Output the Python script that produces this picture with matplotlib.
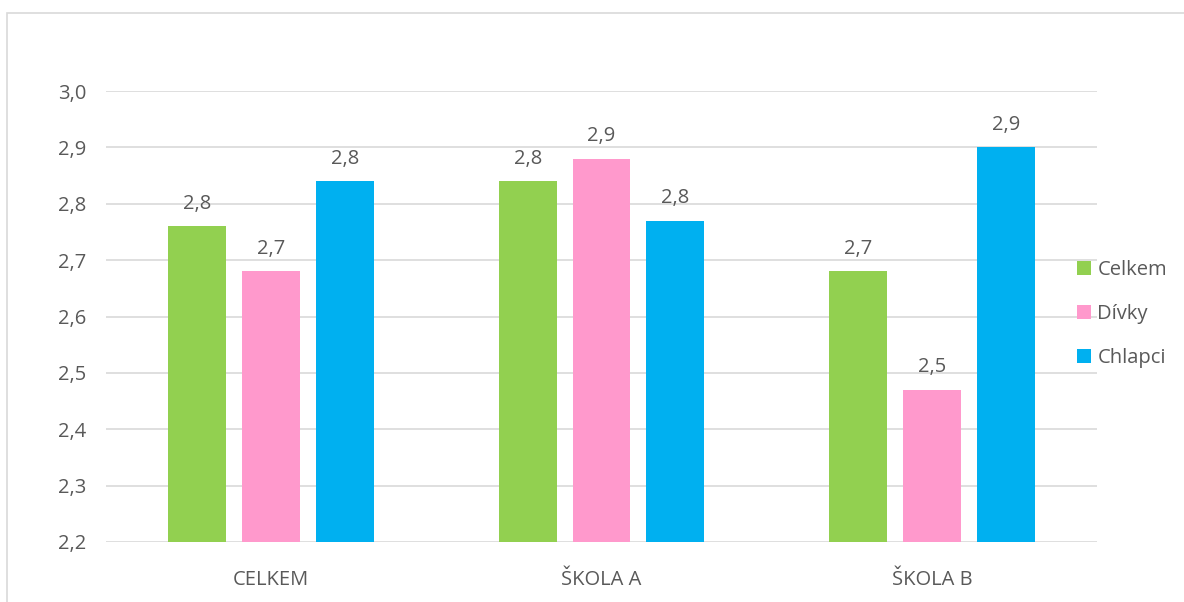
import matplotlib
matplotlib.use("Agg")
import matplotlib.pyplot as plt
from matplotlib.patches import Rectangle
import numpy as np

categories = ["CELKEM", "ŠKOLA A", "ŠKOLA B"]
series_names = ["Celkem", "Dívky", "Chlapci"]
celkem = [2.76, 2.84, 2.68]
divky = [2.68, 2.88, 2.47]
chlapci = [2.84, 2.77, 2.90]
colors = ["#92D050", "#FF99CC", "#00B0F0"]
yticks = [2.2, 2.3, 2.4, 2.5, 2.6, 2.7, 2.8, 2.9, 3.0]

plt.rcParams['font.family'] = ['Open Sans', 'DejaVu Sans']
txt = "#595959"
fs = 14.5

W, H = 1184, 602
fig = plt.figure(figsize=(W/100, H/100), dpi=100)
fig.patches.append(Rectangle((7/W, -0.05), 1.1, (H-13)/H + 0.05, transform=fig.transFigure,
                             fill=False, edgecolor="#D9D9D9", linewidth=1.2))

ax = fig.add_axes([106/W, 1-542/H, (1097-106)/W, (542-91)/H])
x = np.arange(len(categories))
step = 74/331
width = 58/331
for i, (name, vals) in enumerate(zip(series_names, [celkem, divky, chlapci])):
    pos = x + (i-1)*step
    ax.bar(pos, [v-2.2 for v in vals], width, bottom=2.2, color=colors[i], label=name, zorder=3)
    for p, v in zip(pos, vals):
        ax.text(p, v + 0.022, f"{v:.1f}".replace(".", ","), ha="center", va="bottom",
                fontsize=fs, color=txt)

ax.set_xlim(-0.5, 2.5)
ax.set_ylim(2.2, 3.0)
ax.set_yticks(yticks)
ax.set_yticklabels([f"{t:.1f}".replace(".", ",") for t in yticks])
ax.set_xticks(x)
ax.set_xticklabels(categories)
ax.yaxis.grid(True, color="#D9D9D9", linewidth=1.2, zorder=0)
for s in ax.spines.values():
    s.set_visible(False)
ax.tick_params(axis="both", length=0, labelsize=fs, labelcolor=txt)
ax.tick_params(axis="y", pad=14)
ax.tick_params(axis="x", pad=20)

leg = fig.legend(loc="upper left", bbox_to_anchor=(1059/W, 1-242/H), frameon=False,
                 fontsize=fs, labelcolor=txt, handlelength=0.7, handleheight=0.7,
                 handletextpad=0.3, labelspacing=1.2)

fig.savefig("out.png", dpi=100)
